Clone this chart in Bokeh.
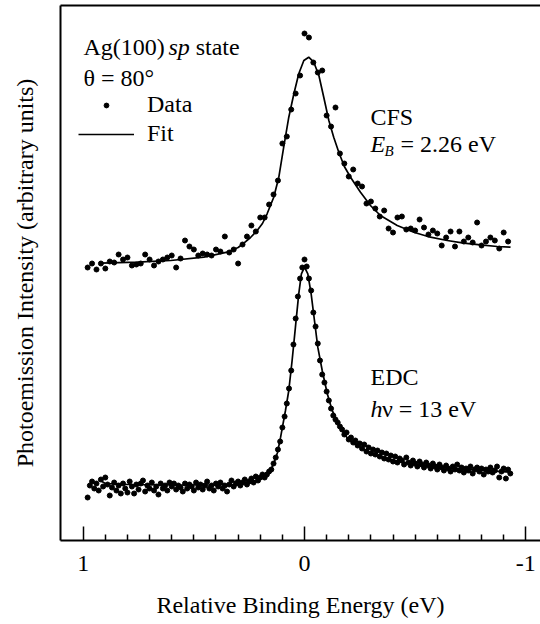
from bokeh.plotting import figure
from bokeh.models import Range1d, FixedTicker, LinearAxis, Label, Legend, LegendItem
from bokeh.embed import file_html
from bokeh.resources import INLINE

FONT = "Liberation Serif"
FS = "24px"

# ---------------- data ----------------
cfs_energy = [0.98, 0.96, 0.94, 0.92, 0.90, 0.88, 0.86, 0.84, 0.82, 0.80,
              0.78, 0.76, 0.74, 0.72, 0.70, 0.68, 0.66, 0.64, 0.62, 0.60,
              0.58, 0.56, 0.54, 0.52, 0.50, 0.48, 0.46, 0.44, 0.42, 0.40,
              0.38, 0.36, 0.34, 0.32, 0.30, 0.28, 0.26, 0.24, 0.22, 0.20,
              0.18, 0.16, 0.14, 0.12, 0.10, 0.08, 0.06, 0.04, 0.02, 0.00,
              -0.02, -0.04, -0.06, -0.08, -0.10, -0.12, -0.14, -0.16, -0.18, -0.20,
              -0.22, -0.24, -0.26, -0.28, -0.30, -0.32, -0.34, -0.36, -0.38, -0.40,
              -0.42, -0.44, -0.46, -0.48, -0.50, -0.52, -0.54, -0.56, -0.58, -0.60,
              -0.62, -0.64, -0.66, -0.68, -0.70, -0.72, -0.74, -0.76, -0.78, -0.80,
              -0.82, -0.84, -0.86, -0.88, -0.90, -0.92]
cfs_intensity = [273, 277, 271, 277, 272, 279, 278, 286, 281, 283,
                 275, 276, 277, 286, 281, 275, 279, 281, 283, 285,
                 273, 282, 300, 294, 291, 285, 287, 286, 285, 291,
                 289, 304, 288, 291, 277, 296, 304, 315, 309, 323,
                 323, 336, 346, 360, 397, 404, 431, 447, 465, 507,
                 503, 478, 468, 470, 425, 414, 433, 387, 377, 364,
                 371, 357, 354, 337, 339, 332, 324, 330, 312, 308,
                 323, 324, 311, 312, 310, 321, 313, 306, 310, 307,
                 295, 303, 309, 294, 309, 299, 303, 298, 318, 295,
                 299, 303, 300, 292, 308, 299]

cfs_fit_energy = [0.922, 0.756, 0.605, 0.455, 0.349, 0.30, 0.274, 0.244, 0.214, 0.19,
                  0.169, 0.139, 0.116, 0.094, 0.071, 0.048, 0.026, 0.003, -0.019, -0.042,
                  -0.065, -0.087, -0.110, -0.132, -0.155, -0.18, -0.208, -0.253, -0.298, -0.343,
                  -0.419, -0.494, -0.569, -0.645, -0.720, -0.795, -0.871, -0.931]
cfs_fit_intensity = [277.3, 278.3, 280, 283.3, 288.3, 293, 297.3, 303, 310, 317,
                     326.7, 343.3, 363.3, 393.3, 423.3, 446.7, 466.7, 480, 483.3, 478.3,
                     465, 443.3, 420, 403.3, 388.3, 374, 363.3, 348.3, 335, 325,
                     315, 308.3, 303.3, 300, 297.3, 295.7, 294, 293.3]

edc_energy = [0.98, 0.97, 0.96, 0.95, 0.94, 0.93, 0.92, 0.91, 0.90, 0.89,
              0.88, 0.87, 0.86, 0.85, 0.84, 0.83, 0.82, 0.81, 0.80, 0.79,
              0.78, 0.77, 0.76, 0.75, 0.74, 0.73, 0.72, 0.71, 0.70, 0.69,
              0.68, 0.67, 0.66, 0.65, 0.64, 0.63, 0.62, 0.61, 0.60, 0.59,
              0.58, 0.57, 0.56, 0.55, 0.54, 0.53, 0.52, 0.51, 0.50, 0.49,
              0.48, 0.47, 0.46, 0.45, 0.44, 0.43, 0.42, 0.41, 0.40, 0.39,
              0.38, 0.37, 0.36, 0.35, 0.34, 0.33, 0.32, 0.31, 0.30, 0.29,
              0.28, 0.27, 0.26, 0.25, 0.24, 0.23, 0.22, 0.21, 0.20, 0.19,
              0.18, 0.17, 0.16, 0.15, 0.14, 0.13, 0.12, 0.11, 0.10, 0.09,
              0.08, 0.07, 0.06, 0.05, 0.04, 0.03, 0.02, 0.01, 0.00, -0.01,
              -0.02, -0.03, -0.04, -0.05, -0.06, -0.07, -0.08, -0.09, -0.10, -0.11,
              -0.12, -0.13, -0.14, -0.15, -0.16, -0.17, -0.18, -0.19, -0.20, -0.21,
              -0.22, -0.23, -0.24, -0.25, -0.26, -0.27, -0.28, -0.29, -0.30, -0.31,
              -0.32, -0.33, -0.34, -0.35, -0.36, -0.37, -0.38, -0.39, -0.40, -0.41,
              -0.42, -0.43, -0.44, -0.45, -0.46, -0.47, -0.48, -0.49, -0.50, -0.51,
              -0.52, -0.53, -0.54, -0.55, -0.56, -0.57, -0.58, -0.59, -0.60, -0.61,
              -0.62, -0.63, -0.64, -0.65, -0.66, -0.67, -0.68, -0.69, -0.70, -0.71,
              -0.72, -0.73, -0.74, -0.75, -0.76, -0.77, -0.78, -0.79, -0.80, -0.81,
              -0.82, -0.83, -0.84, -0.85, -0.86, -0.87, -0.88, -0.89, -0.90, -0.91,
              -0.92, -0.93]
edc_intensity = [43, 55, 59, 52, 57, 50, 61, 54, 63, 56,
                 45, 53, 58, 50, 55, 47, 57, 52, 48, 59,
                 54, 47, 56, 51, 57, 60, 49, 55, 52, 58,
                 50, 54, 46, 57, 52, 55, 50, 58, 54, 57,
                 51, 55, 53, 49, 57, 52, 56, 54, 50, 58,
                 53, 56, 51, 55, 59, 52, 55, 50, 57, 54,
                 58, 52, 55, 49, 56, 60, 54, 57, 59, 55,
                 58, 61, 56, 59, 62, 58, 64, 60, 63, 66,
                 63, 66, 69, 71, 77, 83, 91, 99, 113, 124,
                 137, 152, 170, 196, 222, 244, 262, 273, 281, 274,
                 262, 250, 228, 214, 197, 180, 166, 158, 149, 140,
                 132, 125, 121, 118, 114, 111, 106, 108, 101, 103,
                 98, 100, 95, 97, 92, 96, 89, 93, 87, 91,
                 86, 90, 84, 88, 82, 87, 81, 85, 79, 84,
                 78, 82, 80, 76, 83, 78, 75, 80, 77, 74,
                 79, 76, 73, 78, 75, 72, 77, 74, 71, 76,
                 73, 70, 75, 72, 69, 74, 71, 76, 70, 73,
                 68, 72, 70, 74, 67, 71, 73, 69, 72, 66,
                 71, 69, 73, 68, 70, 74, 63, 69, 72, 62,
                 71, 67]

edc_fit_energy = [0.93, 0.90, 0.80, 0.60, 0.40, 0.30, 0.26, 0.22, 0.184, 0.16,
                  0.139, 0.122, 0.108, 0.086, 0.071, 0.056, 0.041, 0.026, 0.014, 0.0,
                  -0.015, -0.030, -0.045, -0.060, -0.080, -0.103, -0.125, -0.155, -0.178, -0.20,
                  -0.238, -0.313, -0.404, -0.509, -0.615, -0.765, -0.931]
edc_fit_intensity = [61, 57, 56, 55.5, 55.5, 56, 57.7, 60, 63.3, 68,
                     76.7, 88, 103.3, 130, 150, 180, 213.3, 246.7, 266.7, 273.3,
                     266.7, 246.7, 220, 193.3, 170, 146.7, 130, 116.7, 106.7, 101,
                     95, 86, 80, 76, 73.3, 70.7, 68.3]

major_ticks = [1, 0, -1]
minor_ticks = [0.9, 0.8, 0.7, 0.6, 0.5, 0.4, 0.3, 0.2, 0.1,
               -0.1, -0.2, -0.3, -0.4, -0.5, -0.6, -0.7, -0.8, -0.9]
tick_labels = {1: "1", 0: "0", -1: "-1"}

# ---------------- figure ----------------
p = figure(width=540, height=624, output_backend="svg", toolbar_location=None,
           x_range=Range1d(1.1026, -1.0664), y_range=Range1d(0, 535),
           min_border_left=60, min_border_right=0, min_border_top=5, min_border_bottom=84)
p.outline_line_color = None
p.grid.visible = False
p.background_fill_color = "white"
p.border_fill_color = "white"

xa = p.xaxis[0]
xa.ticker = FixedTicker(ticks=major_ticks, minor_ticks=minor_ticks)
xa.major_label_overrides = tick_labels
xa.major_tick_in = 14
xa.major_tick_out = 0
xa.minor_tick_in = 6
xa.minor_tick_out = 0
xa.axis_line_width = 2
xa.major_tick_line_width = 1.5
xa.minor_tick_line_width = 1.5
xa.axis_line_color = "black"
xa.major_tick_line_color = "black"
xa.minor_tick_line_color = "black"
xa.major_label_text_font = FONT
xa.major_label_text_font_size = FS
xa.major_label_text_color = "black"
xa.major_label_standoff = 15
xa.axis_label = "Relative Binding Energy (eV)"
xa.axis_label_text_font = FONT
xa.axis_label_text_font_size = FS
xa.axis_label_text_font_style = "normal"
xa.axis_label_text_color = "black"
xa.axis_label_standoff = 18

ya = p.yaxis[0]
ya.ticker = FixedTicker(ticks=[])
ya.major_tick_out = 0
ya.major_tick_in = 0
ya.minor_tick_out = 0
ya.minor_tick_in = 0
ya.major_label_standoff = 0
ya.axis_line_width = 2
ya.axis_line_color = "black"
ya.axis_label = "Photoemission Intensity (arbitrary units)"
ya.axis_label_text_font = FONT
ya.axis_label_text_font_size = FS
ya.axis_label_text_font_style = "normal"
ya.axis_label_text_color = "black"
ya.axis_label_standoff = 23

top = LinearAxis(ticker=FixedTicker(ticks=[]), axis_line_width=2, axis_line_color="black",
                 major_tick_out=0, major_tick_in=0, minor_tick_out=0, minor_tick_in=0,
                 major_label_standoff=0, major_label_text_font_size="0px")
p.add_layout(top, "above")

# ---------------- curves ----------------
cfs_line = p.line(cfs_fit_energy, cfs_fit_intensity, line_color="black", line_width=1.7)
edc_line = p.line(edc_fit_energy, edc_fit_intensity, line_color="black", line_width=1.7)
cfs_dots = p.scatter(cfs_energy, cfs_intensity, marker="circle", size=5,
                     fill_color="black", line_color="black")
edc_dots = p.scatter(edc_energy, edc_intensity, marker="circle", size=5,
                     fill_color="black", line_color="black")

legend = Legend(items=[LegendItem(label="Data", renderers=[cfs_dots]),
                       LegendItem(label="Fit", renderers=[cfs_line])],
                location=(18, 393), glyph_width=56, glyph_height=12, label_height=27,
                spacing=2, padding=0, margin=0, label_standoff=13,
                label_text_font=FONT, label_text_font_size=FS, label_text_color="black",
                border_line_color=None, background_fill_alpha=0)
p.add_layout(legend)

# ---------------- annotations ----------------
def lab(x, y, text, style="normal", size=FS):
    p.add_layout(Label(x=x, y=y, text=text, text_font=FONT, text_font_size=size,
                       text_font_style=style, text_color="black",
                       text_align="left", text_baseline="alphabetic"))

lab(0.9986, 494, "Ag(100)")
lab(0.6146, 494, "sp", "italic")
lab(0.492, 494, "state")
lab(0.9986, 463, "θ = 80°")
lab(-0.2982, 423.3, "CFS")
lab(-0.2982, 396.7, "E", "italic")
lab(-0.3615, 390, "B", "italic", "15px")
lab(-0.4338, 396.7, "= 2.26 eV")
lab(-0.2982, 163.3, "EDC")
lab(-0.2982, 132, "h", "italic")
lab(-0.350, 132, "ν = 13 eV")

open("out.html", "w").write(file_html(p, INLINE))
